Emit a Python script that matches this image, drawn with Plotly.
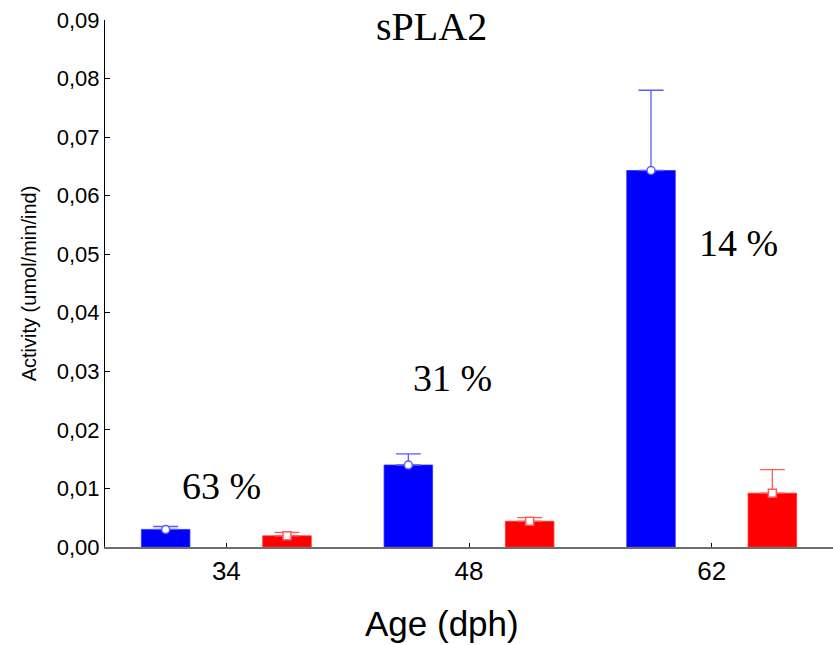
import plotly.graph_objects as go

categories = ["34", "48", "62"]
blue_values = [0.0030, 0.0140, 0.0643]
blue_err_up = [0.0005, 0.0019, 0.0137]
red_values = [0.0019, 0.0044, 0.0092]
red_err_up = [0.0006, 0.0006, 0.0040]
pct_labels = ["63 %", "31 %", "14 %"]
pct_x = [-0.02, 0.93, 2.11]
pct_y = [0.0104, 0.0288, 0.0519]
y_ticks = [0.00, 0.01, 0.02, 0.03, 0.04, 0.05, 0.06, 0.07, 0.08, 0.09]

idx = list(range(len(categories)))
off = 0.25
bw = 0.2
blue_x = [i - off for i in idx]
red_x = [i + off for i in idx]

BLUE = "#0000ff"
RED = "#ff0000"
LBLUE = "#5a5aff"
LRED = "#ff5a5a"

fig = go.Figure()
fig.add_trace(go.Bar(x=blue_x, y=blue_values, width=bw, marker=dict(color=BLUE, line=dict(width=0.8, color="#3030ff"))))
fig.add_trace(go.Bar(x=red_x, y=red_values, width=bw, marker=dict(color=RED, line=dict(width=0.8, color="#ff3030"))))
fig.add_trace(go.Scatter(
    x=blue_x, y=blue_values, mode="markers",
    marker=dict(symbol="circle", size=8, color="white", line=dict(color=LBLUE, width=1.5)),
    error_y=dict(type="data", array=blue_err_up, arrayminus=[0]*3, symmetric=False,
                 color=LBLUE, thickness=1.3, width=12.5),
))
fig.add_trace(go.Scatter(
    x=red_x, y=red_values, mode="markers",
    marker=dict(symbol="square", size=8, color="white", line=dict(color=LRED, width=1.5)),
    error_y=dict(type="data", array=red_err_up, arrayminus=[0]*3, symmetric=False,
                 color=LRED, thickness=1.3, width=12.5),
))

for t, xx, yy in zip(pct_labels, pct_x, pct_y):
    fig.add_annotation(x=xx, y=yy, xref="x", yref="y", text=t, showarrow=False,
                       font=dict(family="Liberation Serif", size=38, color="black"),
                       xanchor="center", yanchor="middle")

fig.add_annotation(x=0.449, y=0.987, xref="paper", yref="paper", text="sPLA2", showarrow=False,
                   font=dict(family="Liberation Serif", size=40, color="black"),
                   xanchor="center", yanchor="middle")

fig.add_annotation(x=0.463, y=-0.145, xref="paper", yref="paper", text="Age (dph)", showarrow=False,
                   font=dict(family="Liberation Sans", size=35, color="black"),
                   xanchor="center", yanchor="middle")

fig.update_layout(
    width=833, height=645,
    margin=dict(l=105, r=0, t=20, b=98),
    plot_bgcolor="white", paper_bgcolor="white",
    showlegend=False,
    separators=", ",
    font=dict(family="Liberation Sans", color="black"),
    xaxis=dict(
        range=[-0.5, 2.5], tickmode="array", tickvals=idx, ticktext=categories,
        ticks="inside", ticklen=4, tickcolor="black", tickfont=dict(size=26),
        showline=True, linecolor="#6e6e6e", linewidth=1.5, showgrid=False, zeroline=False,
    ),
    yaxis=dict(
        range=[0, 0.09], tickmode="array", tickvals=y_ticks,
        tickformat=".2f", ticks="inside", ticklen=5, tickcolor="black",
        tickfont=dict(size=22), showline=True, linecolor="black", linewidth=1,
        showgrid=False, zeroline=False,
        title=dict(text="Activity (umol/min/ind)", font=dict(size=20), standoff=14),
    ),
)

fig.write_html("out.html")
